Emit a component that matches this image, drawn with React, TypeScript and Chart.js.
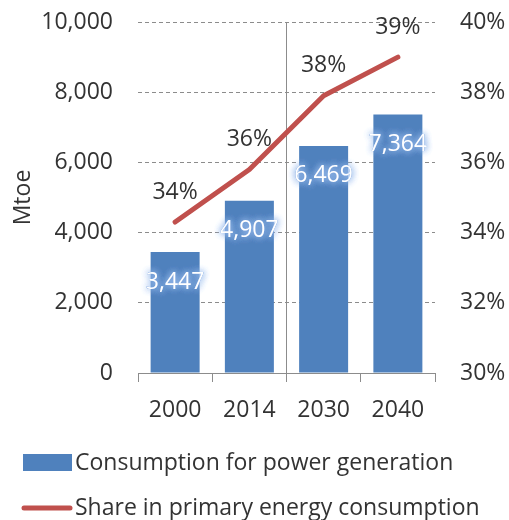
import React, { useEffect, useRef } from "react";
import { Chart, registerables } from "chart.js";

Chart.register(...registerables);

const years = ["2000", "2014", "2030", "2040"];
const consumption = [3447, 4907, 6469, 7364];
const share = [34.3, 35.8, 37.9, 39.0];
const shareLabels = ["34%", "36%", "38%", "39%"];
const barLabels = ["3,447", "4,907", "6,469", "7,364"];
const seriesNames = ["Consumption for power generation", "Share in primary energy consumption"];

const FONT = "'Open Sans', 'Noto Sans', sans-serif";
const BLUE = "#4F81BD";
const RED = "#C0504D";
const TEXT = "#333333";
const FS = 23;

const labelPlugin = {
  id: "labels",
  afterDatasetsDraw(chart: any) {
    const ctx = chart.ctx;
    ctx.save();
    ctx.font = `${FS}px ${FONT}`;
    ctx.textAlign = "center";
    ctx.textBaseline = "middle";
    const barMeta = chart.getDatasetMeta(0);
    barMeta.data.forEach((el: any, i: number) => {
      const x = el.x;
      const y = el.y + 30;
      ctx.shadowColor = "rgba(150,185,235,1)";
      ctx.shadowBlur = 7;
      ctx.fillStyle = "rgba(120,160,220,1)";
      for (let k = 0; k < 3; k++) ctx.fillText(barLabels[i], x, y);
      ctx.shadowBlur = 0;
      ctx.shadowColor = "transparent";
      ctx.fillStyle = "#ffffff";
      ctx.fillText(barLabels[i], x, y);
    });
    const lineMeta = chart.getDatasetMeta(1);
    ctx.fillStyle = TEXT;
    lineMeta.data.forEach((pt: any, i: number) => {
      ctx.fillText(shareLabels[i], pt.x, pt.y - 30);
    });
    ctx.restore();
  },
};

const legendPlugin = {
  id: "customLegend",
  afterDraw(chart: any) {
    const ctx = chart.ctx;
    ctx.save();
    ctx.font = `${FS}px ${FONT}`;
    ctx.textBaseline = "middle";
    ctx.textAlign = "left";
    ctx.fillStyle = BLUE;
    ctx.fillRect(23, 454, 49, 17);
    ctx.fillStyle = TEXT;
    ctx.fillText(seriesNames[0], 75, 463);
    ctx.strokeStyle = RED;
    ctx.lineWidth = 5;
    ctx.lineCap = "round";
    ctx.beginPath();
    ctx.moveTo(24, 508);
    ctx.lineTo(70, 508);
    ctx.stroke();
    ctx.fillStyle = TEXT;
    ctx.fillText(seriesNames[1], 75, 508);
    ctx.restore();
  },
};

export default function App() {
  const ref = useRef<HTMLCanvasElement>(null);
  useEffect(() => {
    if (!ref.current) return;
    const chart = new Chart(ref.current, {
      type: "bar",
      data: {
        labels: years,
        datasets: [
          {
            type: "bar",
            label: seriesNames[0],
            data: consumption,
            backgroundColor: BLUE,
            yAxisID: "y",
            categoryPercentage: 1,
            barPercentage: 0.66,
            order: 2,
          },
          {
            type: "line",
            label: seriesNames[1],
            data: share,
            borderColor: RED,
            borderWidth: 5,
            borderCapStyle: "round",
            borderJoinStyle: "round",
            pointRadius: 0,
            tension: 0,
            yAxisID: "y1",
            order: 1,
          } as any,
        ],
      },
      options: {
        responsive: false,
        animation: false,
        layout: { padding: { top: 22, left: 0, right: 0, bottom: 0 } },
        plugins: { legend: { display: false }, tooltip: { enabled: false } },
        scales: {
          x: {
            grid: {
              offset: true,
              color: (c: any) => (c.index === 2 ? "#8c8c8c" : "transparent"),
              tickColor: "#8c8c8c",
              tickLength: 9,
            },
            border: { display: true, color: "#8c8c8c" },
            ticks: { color: TEXT, font: { family: FONT, size: FS }, padding: 15 },
            afterFit: (s: any) => {
              s.height = 147;
            },
          },
          y: {
            position: "left",
            min: 0,
            max: 10000,
            ticks: {
              stepSize: 2000,
              color: TEXT,
              font: { family: FONT, size: FS },
              padding: 0,
              callback: (v: any) => Number(v).toLocaleString("en-US"),
            },
            grid: {
              color: (c: any) => (c.tick && c.tick.value === 0 ? "transparent" : "#8c8c8c"),
              drawTicks: true,
              tickLength: 25,
              tickColor: "transparent",
            },
            border: { display: false, dash: [4, 3] },
            title: {
              display: true,
              text: "Mtoe",
              color: TEXT,
              font: { family: FONT, size: FS },
              padding: { top: 10, bottom: 0 },
            },
            afterFit: (s: any) => {
              s.width = 138;
            },
          },
          y1: {
            position: "right",
            min: 30,
            max: 40,
            ticks: {
              stepSize: 2,
              color: TEXT,
              font: { family: FONT, size: FS },
              padding: 0,
              callback: (v: any) => v + "%",
            },
            grid: { drawOnChartArea: false, drawTicks: true, tickLength: 25, tickColor: "transparent" },
            border: { display: false },
            afterFit: (s: any) => {
              s.width = 74;
            },
          },
        },
      },
      plugins: [labelPlugin, legendPlugin],
    });
    return () => chart.destroy();
  }, []);
  return (
    <div style={{ position: "fixed", left: 0, top: 0, width: 509, height: 520, background: "#fff" }}>
      <canvas ref={ref} width={509} height={520} />
    </div>
  );
}
